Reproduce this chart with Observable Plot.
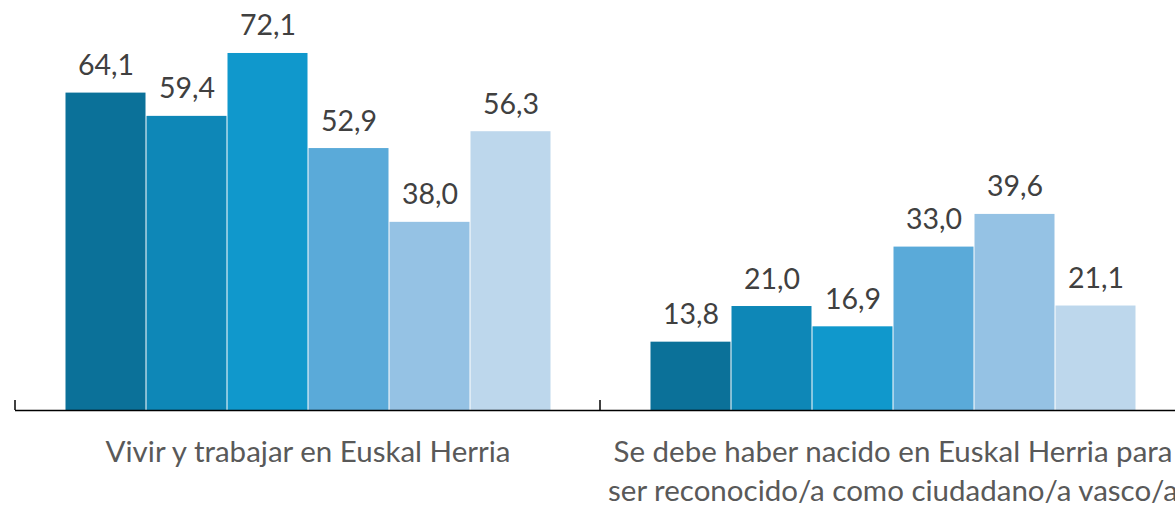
<!DOCTYPE html>
<html><head><meta charset="utf-8">
<script src="https://cdn.jsdelivr.net/npm/d3@7"></script>
<script src="https://cdn.jsdelivr.net/npm/@observablehq/plot@0.6"></script>
<style>body{margin:0;background:#fff;overflow:hidden} #c{width:1175px;height:505px;overflow:hidden}</style>
</head><body><div id="c"></div>
<script>
const categories = ["Vivir y trabajar en Euskal Herria", "Se debe haber nacido en Euskal Herria para\nser reconocido/a como ciudadano/a vasco/a"];
const series = ["Serie 1", "Serie 2", "Serie 3", "Serie 4", "Serie 5", "Serie 6"];
const valuesVivir = [64.1, 59.4, 72.1, 52.9, 38.0, 56.3];
const valuesNacido = [13.8, 21.0, 16.9, 33.0, 39.6, 21.1];
const colors = ["#0b7199", "#0e87b7", "#1098cc", "#5aaad9", "#95c2e4", "#bdd7ec"];

const data = [];
series.forEach((s, i) => data.push({category: categories[0], serie: s, value: valuesVivir[i]}));
series.forEach((s, i) => data.push({category: categories[1], serie: s, value: valuesNacido[i]}));
const fmt = v => v.toFixed(1).replace(".", ",");

const chart = Plot.plot({
  width: 1185, height: 505,
  marginLeft: 15, marginRight: 0, marginTop: 0, marginBottom: 95,
  style: {fontFamily: "Lato", background: "white", overflow: "visible", maxWidth: "none"},
  fx: {domain: categories, padding: 0, axis: null},
  x: {domain: series, padding: 0, insetLeft: 50, insetRight: 49, axis: null},
  y: {domain: [0, 82.8], axis: null},
  color: {domain: series, range: colors},
  marks: [
    Plot.barY(data, {fx: "category", x: "serie", y: "value", fill: "serie", insetLeft: 0.5, insetRight: 0.5}),
    Plot.text(data, {fx: "category", x: "serie", y: "value", text: d => fmt(d.value), lineAnchor: "bottom", dy: -18, fontSize: 28.5, fill: "#404040"}),
    Plot.ruleY([0], {stroke: "#000", strokeWidth: 1.5}),
    Plot.text(categories, {fx: d => d, text: d => d, frameAnchor: "bottom", lineAnchor: "top", dy: 23, fontSize: 29.5, lineHeight: 1.34, fill: "#595959"})
  ]
});
chart.style.maxWidth = "none";
chart.style.height = "505px";
document.getElementById("c").appendChild(chart);

const fx = chart.scale("fx");
const edges = categories.map(c => fx.apply(c));
edges.push(fx.apply(categories[categories.length - 1]) + fx.bandwidth);
const y = chart.scale("y");
const y0 = y.apply(0);
d3.select(chart).append("g").selectAll("line").data(edges).join("line")
  .attr("x1", d => d).attr("x2", d => d)
  .attr("y1", y0 - 10).attr("y2", y0)
  .attr("stroke", "#000").attr("stroke-width", 1.5);
</script>
</body></html>
